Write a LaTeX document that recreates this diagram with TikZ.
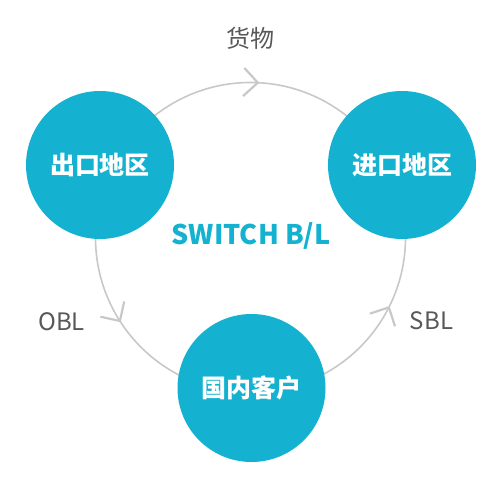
\documentclass[tikz,border=0pt]{standalone}
\usepackage{fontspec}
\setmainfont{Noto Sans CJK SC}
\usetikzlibrary{calc}
\definecolor{teal}{RGB}{20,178,208}
\definecolor{ring}{RGB}{200,200,200}
\definecolor{labelgray}{RGB}{88,88,88}
\tikzset{
  hub/.style={circle, fill=teal, minimum size=148pt, inner sep=0pt, text=white, font=\fontsize{25}{25}\selectfont\bfseries},
  chev/.style={draw=ring, line width=2.2pt, line cap=butt, line join=miter},
  lab/.style={text=labelgray, font=\fontsize{24}{24}\selectfont},
  title/.style={text=teal, font=\fontsize{27}{27}\selectfont\bfseries}
}
\begin{document}
\begin{tikzpicture}[x=1pt,y=1pt]
\useasboundingbox (0,0) rectangle (499,488);
\coordinate (c) at (250.5,250.5);
\draw[ring, line width=1.6pt] (c) circle[radius=155];
% arrow tips on ring
\coordinate (t1) at ($(c)+(87.3:155)$);
\coordinate (t2) at ($(c)+(212.6:155)$);
\coordinate (t3) at ($(c)+(333.2:155)$);
\draw[chev] (t1) ++(-2.7+135:20) -- (t1) -- ++(-2.7-135:20);
\draw[chev] (t2) ++(302.6+135:20) -- (t2) -- ++(302.6-135:20);
\draw[chev] (t3) ++(63.2+135:20) -- (t3) -- ++(63.2-135:20);
\node[hub] (exp) at (100,323) {出口地区};
\node[hub] (imp) at (402,323) {进口地区};
\node[hub] (dom) at (251.5,100) {国内客户};
\node[title] (sw) at (251,252) {SWITCH B/L};
\node[lab] (goods) at (250,450) {货物};
\node[lab] (obl) at (61.5,166.5) {OBL};
\node[lab] (sbl) at (431.5,167) {SBL};
\end{tikzpicture}
\end{document}
